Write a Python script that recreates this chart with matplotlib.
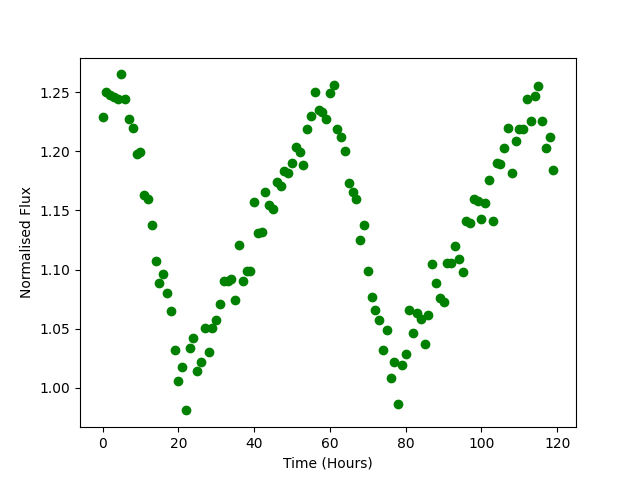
import matplotlib
matplotlib.use("Agg")
import matplotlib.pyplot as plt
import numpy as np

# time in hours, one reading per hour
hours = np.arange(120)

flux = [
    1.229, 1.250, 1.248, 1.246, 1.244, 1.265, 1.244, 1.227, 1.220, 1.198,
    1.199, 1.163, 1.160, 1.138, 1.107, 1.089, 1.096, 1.080, 1.065, 1.032,
    1.006, 1.018, 0.981, 1.034, 1.042, 1.014, 1.022, 1.051, 1.030, 1.051,
    1.057, 1.071, 1.090, 1.090, 1.092, 1.074, 1.121, 1.090, 1.099, 1.099,
    1.157, 1.131, 1.132, 1.166, 1.155, 1.151, 1.174, 1.171, 1.183, 1.182,
    1.190, 1.204, 1.199, 1.188, 1.219, 1.230, 1.250, 1.235, 1.233, 1.227,
    1.249, 1.256, 1.219, 1.212, 1.200, 1.173, 1.166, 1.160, 1.125, 1.138,
    1.099, 1.077, 1.066, 1.057, 1.032, 1.049, 1.008, 1.022, 0.986, 1.019,
    1.029, 1.066, 1.046, 1.063, 1.058, 1.037, 1.062, 1.105, 1.089, 1.076,
    1.073, 1.106, 1.106, 1.120, 1.109, 1.098, 1.141, 1.139, 1.160, 1.158,
    1.143, 1.156, 1.176, 1.141, 1.190, 1.189, 1.203, 1.220, 1.182, 1.209,
    1.219, 1.219, 1.244, 1.226, 1.247, 1.255, 1.226, 1.203, 1.212, 1.184,
]

plt.figure(figsize=(6.4, 4.8), dpi=100)
plt.plot(hours, flux, "go")
plt.xlabel("Time (Hours)")
plt.ylabel("Normalised Flux")
plt.savefig("out.png")
